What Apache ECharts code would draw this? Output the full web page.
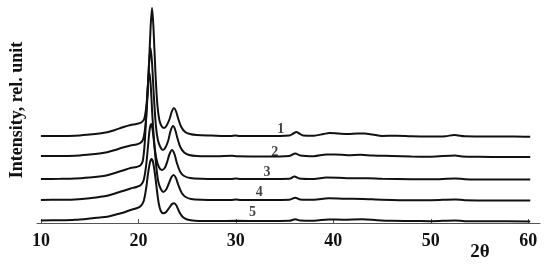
<!DOCTYPE html>
<html>
<head>
<meta charset="UTF-8">
<script src="https://cdn.jsdelivr.net/npm/echarts@6/dist/echarts.min.js"></script>
<style type="text/css">
html, body { margin: 0; padding: 0; background: #fff; }
#main { width: 550px; height: 265px; }
</style>
</head>
<body>
<div id="main"></div>
<script type="text/javascript">
// x tick labels (2θ)
var xTicks = [10, 20, 30, 40, 50, 60];

// five stacked XRD patterns, [2θ, intensity] (rel. units, offsets included as read)
var curve1 = [[10, 87], [12, 87], [13.5, 87.3], [15, 88.5], [16, 89.5], [16.8, 90.7], [17.6, 93], [18.4, 95.7], [19.2, 98], [19.8, 99], [20.3, 100.5], [20.6, 104], [20.85, 120], [21.05, 150], [21.25, 195], [21.4, 215], [21.55, 195], [21.75, 150], [21.95, 118], [22.15, 103], [22.4, 96.5], [22.65, 95], [22.9, 97.5], [23.2, 104], [23.45, 112], [23.65, 115], [23.85, 112], [24.1, 104], [24.4, 96], [24.8, 91], [25.3, 89], [26, 88], [27.5, 87.5], [29.5, 87], [29.9, 87.6], [30.4, 87], [33, 87], [35.5, 87.5], [35.9, 89.5], [36.2, 91], [36.5, 89.5], [36.9, 87.5], [38, 87.3], [39, 89], [39.6, 90], [40.5, 89.5], [41.5, 89], [42.5, 89.5], [43.2, 89.5], [44, 88.5], [45, 87], [46.5, 87.3], [48, 86.7], [50, 86.5], [51.5, 86.8], [52.4, 88], [52.8, 87.5], [53.5, 86.7], [55, 86.6], [57, 86.4], [58.5, 86.6], [60.2, 86.3]];
var curve2 = [[10, 67], [12, 67], [13.5, 67.3], [15, 68.5], [16, 69.5], [16.8, 70.7], [17.6, 73], [18.4, 75.5], [19.2, 77.5], [19.8, 78.5], [20.2, 80], [20.5, 84], [20.75, 100], [20.95, 130], [21.1, 160], [21.25, 175], [21.4, 160], [21.6, 125], [21.8, 97], [22.0, 83], [22.25, 76], [22.5, 73], [22.75, 75], [23.05, 82], [23.3, 92], [23.55, 97], [23.75, 94], [24.0, 85], [24.3, 76], [24.7, 70.5], [25.2, 68], [26, 67], [28, 66.7], [29.6, 67.2], [30.1, 66.8], [33, 66.5], [35.5, 67], [36.1, 69.5], [36.6, 67.5], [38, 66.8], [39.3, 68.5], [40.2, 68.5], [41.5, 67.8], [42.8, 68.3], [44, 67.5], [46, 67], [48, 66.5], [50, 66.3], [52.5, 67.5], [53.2, 66.5], [55, 66.2], [57.5, 66], [60.2, 66]];
var curve3 = [[10, 44], [12, 44.2], [13.5, 44.5], [15, 45.5], [16, 46.5], [16.8, 47.8], [17.6, 50], [18.4, 52.5], [19.2, 55], [19.8, 56], [20.2, 57.5], [20.45, 62], [20.65, 80], [20.85, 115], [21.0, 142], [21.1, 151], [21.25, 140], [21.45, 105], [21.65, 78], [21.85, 64], [22.1, 56], [22.4, 53], [22.7, 55], [22.95, 61], [23.2, 69], [23.45, 73], [23.7, 69], [23.95, 60], [24.3, 51], [24.7, 47], [25.3, 45], [26.5, 44.3], [29.5, 44], [30, 44.4], [30.5, 44], [35.5, 44.3], [36, 46.5], [36.5, 44.5], [38, 44], [39.3, 45.5], [40.5, 45.3], [42, 44.7], [43.5, 44.8], [45, 44.2], [48, 43.8], [50, 43.7], [52.5, 44.5], [53.5, 43.8], [56, 43.5], [60.2, 43.5]];
var curve4 = [[10, 23], [12, 23.3], [13.5, 23.6], [15, 24.7], [16, 26], [16.8, 27.3], [17.6, 29.5], [18.4, 32], [19.2, 34.5], [19.8, 36], [20.25, 38], [20.55, 43], [20.8, 58], [21.0, 78], [21.15, 93], [21.3, 99], [21.45, 94], [21.65, 76], [21.85, 55], [22.05, 41], [22.3, 34], [22.55, 31], [22.85, 33.5], [23.1, 39], [23.4, 46], [23.62, 48], [23.85, 45], [24.1, 38], [24.45, 30], [24.85, 26], [25.4, 24], [26.5, 23.3], [29.5, 23], [30, 23.4], [30.5, 23], [35.5, 23.3], [36.1, 25.3], [36.6, 23.5], [38, 23.2], [39.5, 24.7], [41, 24.3], [43, 24], [45, 23.3], [48, 22.8], [50, 22.8], [52.5, 23.5], [53.5, 22.8], [56, 22.6], [60.2, 22.5]];
var curve5 = [[10, 2.5], [12, 2.8], [13.5, 3.3], [15, 4.5], [16, 5.5], [16.8, 6.3], [17.6, 8.2], [18.4, 10.3], [19.2, 13], [19.8, 14.7], [20.25, 17], [20.55, 22], [20.8, 35], [21.0, 50], [21.2, 61], [21.35, 64], [21.5, 61], [21.7, 49], [21.9, 33], [22.1, 19], [22.3, 12], [22.55, 9.7], [22.85, 11], [23.15, 15], [23.45, 19], [23.67, 19.7], [23.9, 17.5], [24.2, 11], [24.55, 6], [25, 3.5], [25.8, 2.3], [28, 2], [30, 2.2], [33, 2], [35.5, 2.2], [36.1, 3.8], [36.6, 2.5], [38, 2.3], [39.5, 3.5], [41, 3.3], [43, 3.7], [44.5, 2.8], [46, 2.2], [48, 2], [50, 1.8], [52.5, 2.5], [53.5, 1.8], [56, 1.8], [60.2, 1.5]];

// curve numbers and where they sit
var curveNames = ['1', '2', '3', '4', '5'];
var nameX = [34.6, 34.0, 33.2, 32.4, 31.7];
var nameY = [94, 71, 51, 31, 11];

var serif = 'Liberation Serif, Times New Roman, serif';
var curves = [curve1, curve2, curve3, curve4, curve5];

var series = curves.map(function (c, i) {
	return {
		type: 'line',
		name: curveNames[i],
		data: c,
		symbol: 'none',
		smooth: 0.3,
		lineStyle: { color: '#111', width: 2 },
		silent: true
	};
});

// curve number labels
series.push({
	type: 'scatter',
	symbolSize: 1,
	itemStyle: { color: 'rgba(0,0,0,0)' },
	data: curveNames.map(function (n, i) { return [nameX[i], nameY[i], n]; }),
	label: {
		show: true,
		position: 'inside',
		formatter: function (p) { return p.data[2]; },
		fontFamily: serif,
		fontWeight: 'bold',
		fontSize: 14,
		color: '#111'
	},
	silent: true
});

var myChart = echarts.init(document.getElementById('main'));
var option = {
	animation: false,
	grid: { left: 37, right: 10, top: 3, bottom: 42 },
	xAxis: {
		type: 'value',
		min: 9.6,
		max: 61.2,
		axisLine: { show: true, lineStyle: { color: '#555', width: 1 } },
		axisTick: { show: true, inside: true, length: 4, customValues: xTicks, lineStyle: { color: '#555' } },
		axisLabel: {
			customValues: xTicks,
			margin: 9,
			fontFamily: serif,
			fontWeight: 'bold',
			fontSize: 18,
			color: '#111'
		},
		splitLine: { show: false }
	},
	yAxis: {
		type: 'value',
		min: 0,
		max: 220,
		show: false
	},
	graphic: [
		{
			type: 'text',
			x: 17,
			y: 110,
			rotation: Math.PI / 2,
			style: {
				text: 'Intensity, rel. unit',
				fontFamily: serif,
				fontWeight: 'bold',
				fontSize: 18,
				fill: '#111',
				align: 'center',
				verticalAlign: 'middle'
			}
		},
		{
			type: 'text',
			x: 480,
			y: 252,
			style: {
				text: '2θ',
				fontFamily: serif,
				fontWeight: 'bold',
				fontSize: 19,
				fill: '#111',
				align: 'center',
				verticalAlign: 'middle'
			}
		}
	],
	series: series
};
myChart.setOption(option);
</script>
</body>
</html>
